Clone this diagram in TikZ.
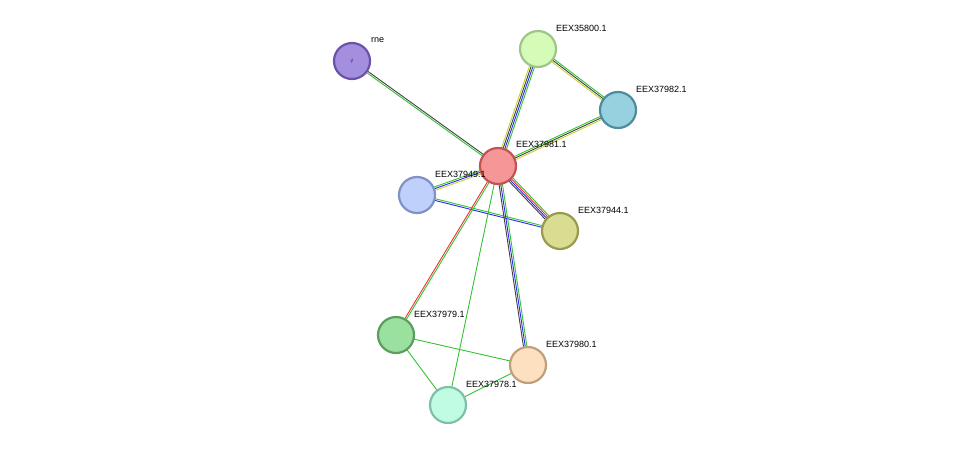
\documentclass[tikz,border=0pt]{standalone}
\usepackage{fontspec}
\setmainfont{Liberation Sans}
\usetikzlibrary{calc,backgrounds}
\definecolor{eg}{HTML}{33C233}
\definecolor{ek}{HTML}{404040}
\definecolor{eb}{HTML}{2A2AF0}
\definecolor{ey}{HTML}{C8D030}
\definecolor{er}{HTML}{F03030}
\newcommand\sedge[4]{%
  \foreach \cc [count=\ii] in {#4} {%
    \pgfmathsetmacro\oo{(\ii-(#3+1)/2)*1.7}%
    \draw[\cc,line width=0.9pt] ($(#1)!\oo pt!90:(#2)$) -- ($(#2)!\oo pt!-90:(#1)$);
  }}
\begin{document}
\begin{tikzpicture}[x=1pt,y=-1pt,
  prot/.style={circle,minimum size=36pt,inner sep=0pt,line width=2.2pt},
  lab/.style={anchor=west,font=\fontsize{9}{10}\selectfont,inner sep=0pt}]
\useasboundingbox (0,0) rectangle (975,451);
\node[prot,fill={rgb,255:red,163;green,143;blue,221},draw={rgb,255:red,106;green,83;blue,168}] (rne) at (352,61) {};
\node[prot,fill={rgb,255:red,213;green,251;blue,184},draw={rgb,255:red,159;green,197;blue,138}] (n35800) at (538,49) {};
\node[prot,fill={rgb,255:red,151;green,209;blue,223},draw={rgb,255:red,77;green,140;blue,156}] (n982) at (618,110) {};
\node[prot,fill={rgb,255:red,247;green,150;blue,150},draw={rgb,255:red,192;green,84;blue,84}] (n981) at (498,166) {};
\node[prot,fill={rgb,255:red,191;green,208;blue,251},draw={rgb,255:red,128;green,144;blue,200}] (n949) at (417,195) {};
\node[prot,fill={rgb,255:red,217;green,221;blue,145},draw={rgb,255:red,153;green,154;blue,80}] (n944) at (560,231) {};
\node[prot,fill={rgb,255:red,154;green,224;blue,158},draw={rgb,255:red,90;green,158;blue,94}] (n979) at (396,335) {};
\node[prot,fill={rgb,255:red,253;green,224;blue,192},draw={rgb,255:red,192;green,160;blue,124}] (n980) at (528,365) {};
\node[prot,fill={rgb,255:red,192;green,252;blue,228},draw={rgb,255:red,128;green,192;blue,168}] (n978) at (448,405) {};
\begin{scope}[on background layer]
\sedge{rne}{n981}{2}{eg,ek}
\sedge{n981}{n35800}{4}{eg,eb,ek,ey}
\sedge{n35800}{n982}{3}{ey,ek,eg}
\sedge{n981}{n982}{3}{ey,ek,eg}
\sedge{n981}{n949}{3}{eg,eb,ey}
\sedge{n949}{n944}{2}{eb,eg}
\sedge{n981}{n944}{4}{ek,eb,er,eg}
\sedge{n981}{n979}{2}{er,eg}
\sedge{n981}{n980}{3}{ek,eb,eg}
\sedge{n981}{n978}{1}{eg}
\sedge{n979}{n980}{1}{eg}
\sedge{n979}{n978}{1}{eg}
\sedge{n980}{n978}{1}{eg}
\end{scope}
\node[font=\tiny,text={rgb,255:red,90;green,60;blue,150}] at (rne) {\textit{ϕ}};
\node[lab] at (371,40) {rne};
\node[lab] at (556,28) {EEX35800.1};
\node[lab] at (636,89) {EEX37982.1};
\node[lab] at (516,144) {EEX37981.1};
\node[lab] at (435,174) {EEX37949.1};
\node[lab] at (578,210) {EEX37944.1};
\node[lab] at (414,314) {EEX37979.1};
\node[lab] at (546,344) {EEX37980.1};
\node[lab] at (466,384) {EEX37978.1};
\end{tikzpicture}
\end{document}
